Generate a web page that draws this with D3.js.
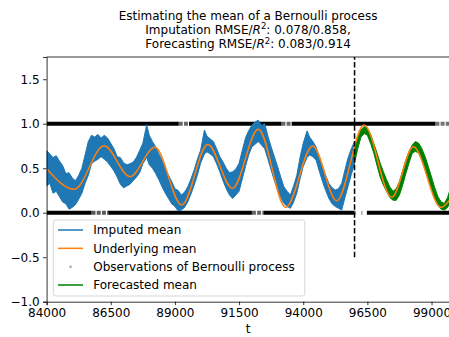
<!DOCTYPE html>
<html><head><meta charset="utf-8">
<script src="https://cdn.jsdelivr.net/npm/d3@7"></script>
<style>body{margin:0;background:#fff} text{font-family:"DejaVu Sans",sans-serif;fill:#000}</style>
</head><body><svg id="c" width="449" height="337"></svg>
<script>
const titleLines = ["Estimating the mean of a Bernoulli process", "Imputation RMSE/R2: 0.078/0.858,", "Forecasting RMSE/R2: 0.083/0.914"];
const xLabel = "t";
const xTicks = [84000, 86500, 89000, 91500, 94000, 96500, 99000];
const yTicks = [-1.0, -0.5, 0.0, 0.5, 1.0, 1.5];
const xDomain = [84000, 99700];
const yDomain = [-1.0, 1.75];

// Underlying mean: read at its turning points
const underlyingT    = [84000, 85080, 86240, 87250, 88220, 89265, 90280, 91240, 92250, 93320, 94370, 95305, 96370, 97450, 98290, 99370, 99700];
const underlyingMean = [0.494, 0.263, 0.753, 0.405, 0.735, 0.087, 0.768, 0.274, 0.937, 0.060, 0.750, 0.135, 0.985, 0.173, 0.742, 0.060, 0.140];

// Imputed mean (noisy): upper / lower envelope of the trace
const imputedT    = [84000,84125,84250,84375,84500,84625,84750,84875,85000,85125,85250,85375,85500,85625,85750,85875,86000,86125,86250,86375,86500,86625,86750,86875,87000,87125,87250,87375,87500,87625,87750,87900,88000,88125,88250,88375,88500,88625,88750,88875,89000,89125,89250,89375,89500,89625,89750,89875,90000,90150,90250,90375,90500,90625,90750,90875,91000,91125,91250,91375,91500,91625,91750,91875,92000,92125,92250,92375,92500,92625,92750,92875,93000,93125,93250,93375,93500,93625,93750,93875,94000,94150,94250,94375,94500,94625,94750,94875,95000,95125,95250,95375,95500,95625,95750,95875,96000];
const imputedHigh = [0.70,0.66,0.62,0.64,0.58,0.53,0.44,0.45,0.39,0.36,0.42,0.50,0.65,0.80,0.87,0.85,0.88,0.84,0.87,0.84,0.78,0.72,0.63,0.62,0.56,0.54,0.55,0.57,0.62,0.70,0.78,0.99,0.87,0.80,0.74,0.66,0.59,0.50,0.42,0.35,0.27,0.25,0.20,0.23,0.29,0.38,0.48,0.60,0.70,0.93,0.86,0.83,0.80,0.72,0.63,0.57,0.50,0.45,0.46,0.49,0.555,0.70,0.84,0.92,0.985,1.02,1.04,0.98,1.00,0.86,0.74,0.63,0.52,0.40,0.29,0.24,0.20,0.30,0.42,0.62,0.78,0.92,0.85,0.80,0.74,0.63,0.52,0.42,0.33,0.28,0.255,0.27,0.33,0.48,0.62,0.72,0.80];
const imputedLow  = [0.30,0.33,0.22,0.24,0.18,0.12,0.10,0.04,0.06,0.09,0.15,0.22,0.33,0.42,0.55,0.58,0.60,0.63,0.60,0.57,0.52,0.47,0.40,0.32,0.28,0.30,0.32,0.36,0.40,0.45,0.55,0.62,0.54,0.50,0.44,0.37,0.29,0.22,0.16,0.10,0.07,0.02,0.03,0.06,0.12,0.21,0.31,0.42,0.555,0.66,0.685,0.66,0.63,0.55,0.46,0.36,0.27,0.20,0.16,0.20,0.24,0.38,0.52,0.65,0.74,0.77,0.80,0.76,0.72,0.60,0.48,0.36,0.255,0.17,0.105,0.07,0.05,0.12,0.22,0.38,0.52,0.62,0.65,0.63,0.59,0.47,0.35,0.25,0.16,0.10,0.07,0.05,0.03,0.17,0.30,0.43,0.55];

// Forecasted mean (noisy): upper / lower envelope
const forecastT    = [96000,96125,96250,96375,96500,96625,96750,96875,97000,97125,97250,97375,97500,97625,97750,97875,98000,98125,98250,98375,98500,98625,98750,98875,99000,99125,99250,99375,99500,99625,99700];
const forecastHigh = [0.72,0.86,0.93,0.97,0.95,0.88,0.78,0.67,0.555,0.46,0.37,0.29,0.24,0.27,0.35,0.47,0.59,0.69,0.76,0.80,0.78,0.72,0.63,0.52,0.40,0.28,0.18,0.12,0.105,0.17,0.24];
const forecastLow  = [0.56,0.72,0.85,0.89,0.87,0.78,0.67,0.53,0.40,0.31,0.24,0.17,0.14,0.14,0.20,0.31,0.44,0.56,0.67,0.69,0.67,0.59,0.50,0.38,0.255,0.16,0.09,0.04,0.03,0.06,0.105];

// Observations of the Bernoulli process: runs of [tStart, tEnd, density]
const obsOneRuns  = [[84000,89150,1],[89150,89550,0.5],[89550,93150,1],[93150,93550,0.5],[93550,99150,1],[99150,99700,0.4]];
const obsZeroRuns = [[84000,85750,1],[85750,86400,0.6],[86400,92000,1],[92000,92450,0.5],[92450,96000,1],[96000,96480,0.05],[96480,99700,1]];

const splitT = 96000;
const splitRange = [-0.5, 1.75];

const legendLabels = ["Imputed mean", "Underlying mean", "Observations of Bernoulli process", "Forecasted mean"];
const legendKinds  = ["line", "line", "dot", "line"];
const legendColors = ["#1f77b4", "#ff7f0e", "#999999", "#008000"];

// ---------- drawing ----------
const svg = d3.select("#c");
const pL = 46.6, pR = 449.5, pT = 57, pB = 301.7;
const x = d3.scaleLinear().domain(xDomain).range([pL, pR]);
const y = d3.scaleLinear().domain(yDomain).range([pB, pT]);

const plot = svg.append("g");
plot.append("defs").append("clipPath").attr("id","clip")
  .append("rect").attr("x", pL).attr("y", pT).attr("width", pR-pL).attr("height", pB-pT);
const g = plot.append("g").attr("clip-path","url(#clip)");

function drawRuns(runs, val){
  runs.forEach(([a,b,d]) => {
    const seg = g.append("line")
      .attr("x1", x(a)).attr("x2", x(b)).attr("y1", y(val)).attr("y2", y(val))
      .attr("stroke-width", 4).attr("stroke", "#000");
    if (d < 0.2) seg.attr("stroke-opacity", 0.35).attr("stroke-dasharray", "1.5,5");
    else if (d < 1) seg.attr("stroke-opacity", 0.35 + d*0.5).attr("stroke-dasharray", "4,1.2");
  });
}
drawRuns(obsOneRuns, 1);
drawRuns(obsZeroRuns, 0);

const band = d3.area().x(d => x(d[0])).y0(d => y(d[2])).y1(d => y(d[1])).curve(d3.curveLinear);
const impData = imputedT.map((t,i) => [t, imputedHigh[i], imputedLow[i]]);
g.append("path").datum(impData).attr("d", band)
  .attr("fill", "#1f77b4").attr("stroke", "#1f77b4").attr("stroke-width", 1);

const fcData = forecastT.map((t,i) => [t, forecastHigh[i], forecastLow[i]]);
g.append("path").datum(fcData).attr("d", band)
  .attr("fill", "#008000").attr("stroke", "#008000").attr("stroke-width", 1);

const line = d3.line().x(d => x(d[0])).y(d => y(d[1])).curve(d3.curveMonotoneX);
g.append("path").datum(underlyingT.map((t,i) => [t, underlyingMean[i]])).attr("d", line)
  .attr("fill", "none").attr("stroke", "#ff7f0e").attr("stroke-width", 1.5);

plot.append("line").attr("x1", x(splitT)).attr("x2", x(splitT))
  .attr("y1", y(splitRange[0])).attr("y2", y(splitRange[1]))
  .attr("stroke", "#000").attr("stroke-width", 1.5).attr("stroke-dasharray", "5.5,2.4");

const fmtY = d => d3.format(".1f")(d).replace("-", "\u2212");
const xAxis = svg.append("g").attr("transform", `translate(0,${pB})`)
  .call(d3.axisBottom(x).tickValues(xTicks).tickFormat(d3.format("d")).tickSizeOuter(0).tickSize(3.5).tickPadding(3.5));
const yAxis = svg.append("g").attr("transform", `translate(${pL},0)`)
  .call(d3.axisLeft(y).tickValues(yTicks).tickFormat(fmtY).tickSizeOuter(0).tickSize(3.5).tickPadding(3.5));
[xAxis, yAxis].forEach(a => {
  a.selectAll("text").attr("font-size", 12).attr("font-family", "DejaVu Sans").attr("fill", "#000");
  a.selectAll("line").attr("stroke", "#000").attr("stroke-width", 0.8);
  a.select(".domain").attr("stroke", "#000").attr("stroke-width", 0.8);
});
svg.append("line").attr("x1", pL).attr("x2", pR).attr("y1", pT).attr("y2", pT)
  .attr("stroke", "#000").attr("stroke-width", 0.8);

svg.append("text").attr("x", (pL+pR)/2).attr("y", 333).attr("text-anchor", "middle")
  .attr("font-size", 12).text(xLabel);

const cx = (pL+pR)/2;
const baselines = [19.5, 33.9, 48.3];
titleLines.forEach((s, i) => {
  const t = svg.append("text").attr("x", cx).attr("y", baselines[i]).attr("text-anchor", "middle").attr("font-size", 12);
  const k = s.indexOf("R2");
  if (k < 0) { t.text(s); return; }
  t.append("tspan").text(s.slice(0, k));
  t.append("tspan").attr("font-style", "italic").text("R");
  t.append("tspan").attr("font-size", 8.5).attr("dy", -4.5).text("2");
  t.append("tspan").attr("dy", 4.5).text(s.slice(k+2));
});

const lg = svg.append("g");
lg.append("rect").attr("x", 53.3).attr("y", 220).attr("width", 251.5).attr("height", 76)
  .attr("rx", 2.5).attr("fill", "#fff").attr("fill-opacity", 0.8).attr("stroke", "#cccccc").attr("stroke-width", 0.8);
const rowY = d3.scaleLinear().domain([0, 3]).range([230, 285]);
legendLabels.forEach((lab, i) => {
  const yy = rowY(i);
  if (legendKinds[i] === "line") {
    lg.append("line").attr("x1", 58).attr("x2", 83).attr("y1", yy).attr("y2", yy)
      .attr("stroke", legendColors[i]).attr("stroke-width", 1.5);
  } else {
    lg.append("circle").attr("cx", 70.5).attr("cy", yy).attr("r", 1.5).attr("fill", legendColors[i]).attr("fill-opacity", 0.7);
  }
  lg.append("text").attr("x", 93.3).attr("y", yy + 4.4).attr("font-size", 12).text(lab);
});
</script></body></html>
